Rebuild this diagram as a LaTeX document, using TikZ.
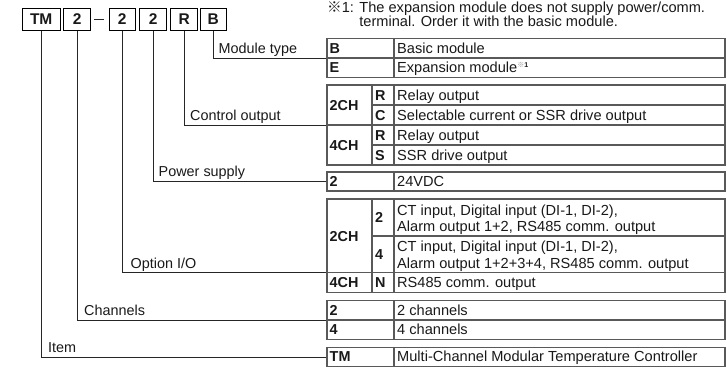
\documentclass[tikz,border=0pt]{standalone}
\usepackage{fontspec}
\setmainfont{Liberation Sans}
\newfontfamily\cjkfont{Noto Sans CJK JP}
\begin{document}
\begin{tikzpicture}[x=1pt,y=-1pt,
  codebox/.style={draw=black, line width=0.9pt, minimum height=21.7pt, inner sep=0pt, font=\fontsize{15.5}{18}\selectfont\bfseries, text=black!90},
  leader/.style={draw=black!85, line width=0.8pt},
  grid/.style={draw=black!65, line width=1.1pt},
  lbl/.style={anchor=base west, inner sep=0pt, font=\fontsize{14.4}{16.7}\selectfont, text=black!90},
  cd/.style={anchor=base west, inner sep=0pt, font=\fontsize{14.4}{16.7}\selectfont\bfseries, text=black!90},
  desc/.style={anchor=base west, inner sep=0pt, font=\fontsize{14.6}{16.7}\selectfont, text=black!90, align=left},
  notestyle/.style={anchor=base west, inner sep=0pt, font=\fontsize{14.6}{14}\selectfont, text=black!90, align=left},
]
\useasboundingbox (0,0) rectangle (727,367);

% footnote (base = last line)
\node[notestyle] (note) at (327,26.5) {{\cjkfont ※}1: The expansion module does not supply power/comm.\\\phantom{{\cjkfont ※}1: }terminal. Order it with the basic module.};

% code boxes
\node[codebox, minimum width=37.6pt] (cTM) at (41.2,19.2) {TM};
\node[codebox, minimum width=26.7pt] (cCh) at (77.2,19.2) {2};
\draw[black!85, line width=0.8pt] (94,19.5) -- (104,19.5);
\node[codebox, minimum width=25.7pt] (cOpt) at (122.2,19.2) {2};
\node[codebox, minimum width=27.4pt] (cPow) at (153.2,19.2) {2};
\node[codebox, minimum width=26.7pt] (cCtl) at (184.2,19.2) {R};
\node[codebox, minimum width=25.7pt] (cMod) at (213.2,19.2) {B};

% table attach points
\coordinate (tMod) at (327,58);
\coordinate (tCtl) at (327,125);
\coordinate (tPow) at (327,181.5);
\coordinate (tOpt) at (327,272.7);
\coordinate (tCh) at (327,320);
\coordinate (tItem) at (327,357);

% leaders
\draw[leader] (cMod.south) |- (tMod);
\draw[leader] (cCtl.south) |- (tCtl);
\draw[leader] (cPow.south) |- (tPow);
\draw[leader] (cOpt.south) |- (tOpt);
\draw[leader] (cCh.south) |- (tCh);
\draw[leader] (cTM.south) |- (tItem);

% labels
\node[lbl] (lMod) at (218.5,53.3) {Module type};
\node[lbl] (lCtl) at (190,120.3) {Control output};
\node[lbl] (lPow) at (158.5,176.5) {Power supply};
\node[lbl] (lOpt) at (130.5,268) {Option I/O};
\node[lbl] (lCh) at (84,315.5) {Channels};
\node[lbl] (lItem) at (48,352) {Item};

% table grid: module type
\draw[grid] (327,38.5) rectangle (725,77.5);
\draw[grid] (327,58) -- (725,58);
\draw[grid] (394,38.5) -- (394,77.5);
% control output
\draw[grid] (327,85) rectangle (725,165);
\draw[grid] (327,125) -- (725,125);
\draw[grid] (372,105) -- (725,105);
\draw[grid] (372,145) -- (725,145);
\draw[grid] (372,85) -- (372,165);
\draw[grid] (394,85) -- (394,165);
% power supply
\draw[grid] (327,172) rectangle (725,191);
\draw[grid] (394,172) -- (394,191);
% option I/O
\draw[grid] (327,199) rectangle (725,292.3);
\draw[grid] (372,236) -- (725,236);
\draw[grid] (327,272.7) -- (725,272.7);
\draw[grid] (372,199) -- (372,292.3);
\draw[grid] (394,199) -- (394,292.3);
% channels
\draw[grid] (327,300.7) rectangle (725,339.3);
\draw[grid] (327,320) -- (725,320);
\draw[grid] (394,300.7) -- (394,339.3);
% item
\draw[grid] (327,347.3) rectangle (725,366.4);
\draw[grid] (394,347.3) -- (394,366.4);

% table texts: module type
\node[cd] (kB) at (329.5,53.3) {B};
\node[desc] (dB) at (397,53.3) {Basic module};
\node[cd] (kE) at (329.5,72.8) {E};
\node[desc] (dE) at (397,72.8) {Expansion module\raisebox{5pt}{\fontsize{7}{8}\selectfont{\cjkfont\color{black!45}※}\textbf{1}}};
% control output
\node[cd] (k2CHa) at (329.5,110) {2CH};
\node[cd] (kRa) at (375,100) {R};
\node[desc] (dRa) at (397,100) {Relay output};
\node[cd] (kC) at (375,120) {C};
\node[desc] (dC) at (397,120) {Selectable current or SSR drive output};
\node[cd] (k4CHa) at (329.5,150) {4CH};
\node[cd] (kRb) at (375,140) {R};
\node[desc] (dRb) at (397,140) {Relay output};
\node[cd] (kS) at (375,160) {S};
\node[desc] (dS) at (397,160) {SSR drive output};
% power supply
\node[cd] (kP) at (329.5,186.5) {2};
\node[desc] (dP) at (397,186.5) {24VDC};
% option I/O (base = last line)
\node[cd] (k2CHb) at (329.5,241) {2CH};
\node[cd] (kO2) at (375,222.5) {2};
\node[desc] (dO2) at (397,231.7) {CT input, Digital input (DI-1, DI-2),\\Alarm output 1+2, RS485 comm. output};
\node[cd] (kO4) at (375,259.3) {4};
\node[desc] (dO4) at (397,268.4) {CT input, Digital input (DI-1, DI-2),\\Alarm output 1+2+3+4, RS485 comm. output};
\node[cd] (k4CHb) at (329.5,287.5) {4CH};
\node[cd] (kN) at (375,287.5) {N};
\node[desc] (dN) at (397,287.5) {RS485 comm. output};
% channels
\node[cd] (kC2) at (329.5,315.3) {2};
\node[desc] (dC2) at (397,315.3) {2 channels};
\node[cd] (kC4) at (329.5,334.6) {4};
\node[desc] (dC4) at (397,334.6) {4 channels};
% item
\node[cd] (kTM) at (329.5,361.9) {TM};
\node[desc] (dTM) at (397,361.9) {Multi-Channel Modular Temperature Controller};
\end{tikzpicture}
\end{document}
